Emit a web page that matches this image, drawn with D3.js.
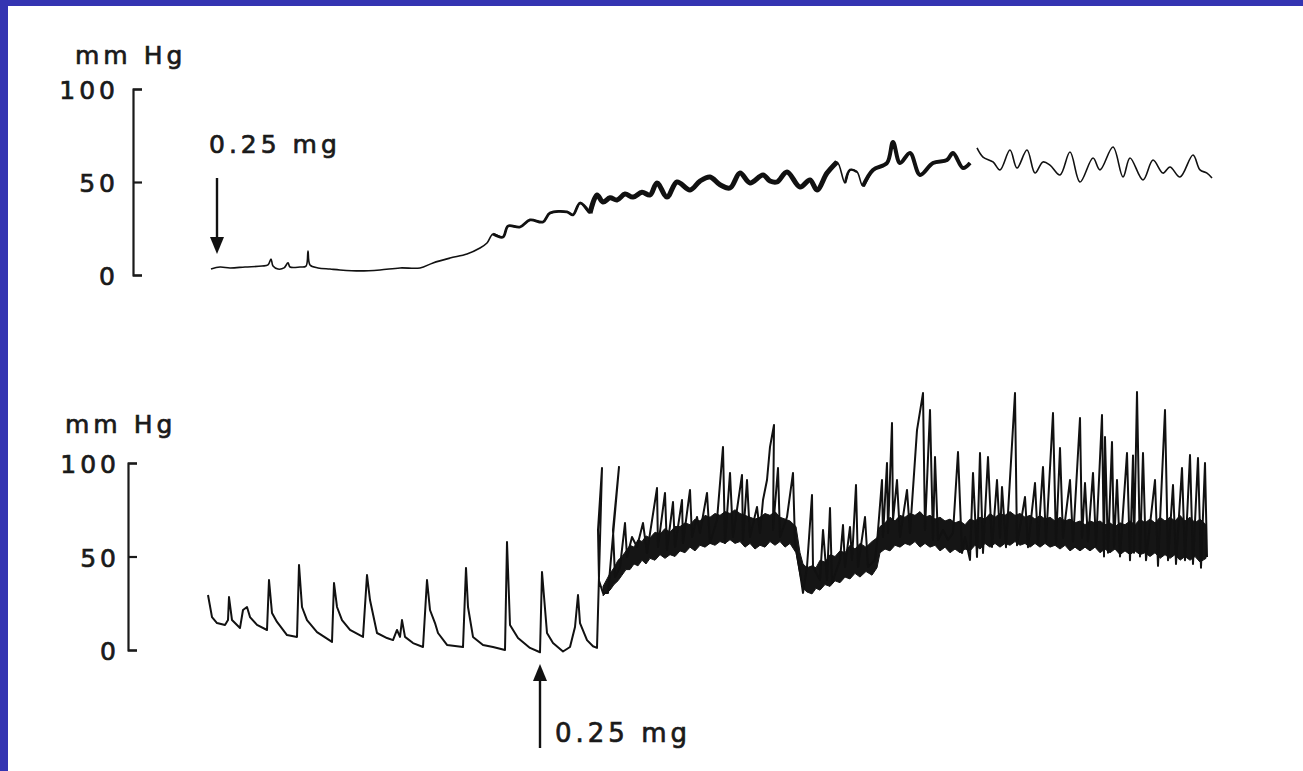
<!DOCTYPE html>
<html>
<head>
<meta charset="utf-8">
<script src="https://cdn.jsdelivr.net/npm/d3@7"></script>
<style>
  html, body { margin: 0; padding: 0; background: #ffffff; }
  svg { display: block; }
  text { font-family: "DejaVu Sans", "Liberation Sans", Arial, sans-serif; fill: #1a1a1a; }
</style>
</head>
<body>
<svg id="chart"></svg>
<script>
let svgWidth = 1303
let svgHeight = 771

// tick labels for both pressure scales (mm Hg)
const tickValues = [0, 50, 100]
const unitLabel = "mm Hg"
const doseLabel = "0.25 mg"

// dose times (same time units as the traces)
const topDoseTime = 17
const bottomDoseTime = 340

// upper recording: [time, mm Hg], null = pen gap
const topTrace = [
  [11, 3.2], [20, 4.3], [30, 3.8], [45, 4.3], [62, 4.8], [68, 5.4], [71, 8.6], [73, 4.8],
  [78, 3.2], [84, 3.8], [88, 6.5], [90, 4.3], [100, 4.3], [106, 4.8], [108, 12.9], [110, 5.4],
  [118, 3.8], [130, 3.2], [140, 2.7], [160, 2.2], [180, 2.7], [200, 3.8], [220, 3.8], [233, 6.5],
  [250, 9.1], [267, 11.3], [280, 14.5], [287, 17.2], [293, 22.0], [303, 20.4], [308, 26.3], [320, 25.8],
  [330, 29.6], [343, 28.5], [350, 33.3], [367, 33.9], [373, 32.3], [380, 38.7], [390, 33.3], [397, 43.0],
  [403, 39.2], [410, 41.5], [417, 40.3], [425, 43.5], [433, 41.9], [442, 44.5], [450, 43.0], [457, 49.5],
  [467, 41.9], [477, 50.0], [490, 45.7], [500, 50.5], [510, 52.7], [520, 48.5], [530, 46.8], [540, 54.8],
  [550, 49.5], [563, 53.8], [570, 50.5], [577, 50.0], [587, 55.4], [600, 47.3], [610, 51.1], [617, 45.7],
  [627, 54.8], [637, 60.8], [645, 49.5], [650, 56.5], [657, 55.4], [663, 47.8], [673, 56.5], [687, 60.2],
  [693, 71.5], [700, 60.2], [710, 65.6], [720, 53.8], [733, 60.2], [747, 61.8], [753, 65.6], [763, 57.5],
  [770, 60.2], null,
  [777, 68.3], [783, 63.4], [793, 60.8], [800, 56.5], [810, 67.2], [817, 57.5], [827, 67.2], [835, 54.8],
  [843, 60.8], [850, 59.1], [860, 53.8], [870, 66.1], [880, 50.0], [893, 62.9], [900, 56.5], [913, 68.8],
  [923, 52.7], [930, 62.9], [943, 51.1], [953, 61.8], [963, 54.8], [970, 58.1], [980, 52.7], [993, 64.5],
  [1000, 56.5], [1007, 54.8], [1012, 52.2]
]

// lower recording: [time, mm Hg]
const bottomTrace = [
  [8, 29.4], [12, 17.6], [17, 14.4], [25, 13.4], [28, 16.0], [29, 28.3], [32, 16.0], [40, 11.8],
  [43, 21.4], [47, 23.0], [50, 17.6], [57, 13.4], [67, 10.7], [69, 37.4], [72, 19.8], [77, 15.0],
  [87, 8.0], [97, 7.0], [99, 45.5], [102, 23.0], [107, 16.0], [117, 9.6], [132, 4.3], [134, 35.8],
  [137, 23.0], [142, 16.0], [150, 10.7], [163, 7.0], [167, 40.1], [170, 26.7], [177, 9.1], [187, 6.4],
  [193, 5.3], [197, 10.7], [200, 7.0], [202, 16.0], [205, 7.0], [213, 3.7], [223, 1.6], [227, 37.4],
  [230, 21.4], [235, 14.4], [238, 9.1], [247, 2.7], [263, 1.6], [266, 43.9], [268, 23.0], [273, 7.0],
  [283, 2.7], [293, 1.6], [305, 0], [307, 57.8], [310, 13.4], [318, 6.4], [330, 1.1], [340, -1.2],
  [342, 41.7], [347, 9.1], [353, 3.7], [363, -0.8], [370, 1.6], [375, 12.3], [378, 29.4], [380, 14.4],
  [387, 5.3], [393, 2.0], [397, 1.1], [402, 97.3], [398, 64.2], [399, 37.0], [403, 30.5], [408, 30.5],
  [419, 97.9], [413, 64.2], [415, 39.0], [420, 44.4], [425, 67.9], [427, 49.7], [432, 60.4], [437, 55.1],
  [443, 67.9], [447, 51.9], [457, 86.6], [458, 55.1], [465, 84.0], [467, 53.5], [473, 79.1], [475, 55.1],
  [482, 80.2], [483, 57.2], [490, 85.6], [492, 60.4], [497, 71.1], [500, 62.6], [507, 84.0], [510, 57.2],
  [517, 69.5], [523, 108.6], [525, 57.2], [530, 94.7], [533, 60.4], [542, 93.6], [543, 58.8], [547, 90.9],
  [550, 60.4], [557, 76.5], [560, 62.6], [563, 80.2], [567, 90.9], [570, 108.6], [574, 120.3], [573, 64.2],
  [578, 97.3], [580, 60.4], [587, 71.1], [593, 94.7], [595, 57.2], [600, 41.2], [603, 30.5], [607, 44.4],
  [612, 82.9], [613, 44.4], [620, 37.4], [623, 64.2], [627, 37.4], [630, 75.9], [632, 35.8], [640, 48.1],
  [643, 66.8], [645, 44.4], [650, 65.8], [652, 48.1], [656, 88.2], [658, 44.4], [665, 71.1], [668, 44.4],
  [675, 48.1], [677, 57.2], [682, 90.9], [683, 60.4], [687, 100.0], [688, 62.6], [692, 121.4], [693, 69.5],
  [697, 90.9], [700, 60.4], [707, 85.6], [710, 62.6], [717, 117.6], [723, 137.4], [725, 64.2], [730, 128.3],
  [733, 58.8], [735, 103.2], [738, 58.8], [743, 64.2], [748, 58.8], [753, 62.6], [758, 105.9], [762, 51.9],
  [765, 60.4], [770, 48.1], [773, 94.7], [777, 49.7], [780, 105.3], [783, 51.9], [788, 103.2], [792, 55.1],
  [797, 90.9], [800, 60.0], [802, 87.2], [806, 55.0], [815, 137.4], [817, 56.0], [825, 81.8], [828, 55.0],
  [835, 89.3], [838, 57.0], [843, 97.9], [846, 58.0], [853, 126.7], [856, 57.0], [860, 108.0], [863, 60.0],
  [870, 90.9], [873, 58.0], [880, 124.1], [882, 60.0], [885, 89.3], [888, 58.0], [893, 94.7], [896, 56.0],
  [902, 125.7], [904, 50.0], [905, 113.9], [908, 52.0], [912, 111.2], [914, 55.0], [917, 90.9], [920, 50.0],
  [927, 105.3], [930, 48.0], [933, 104.0], [934, 52.0], [937, 138.0], [940, 50.0], [943, 105.3], [946, 48.0],
  [955, 90.9], [958, 45.0], [965, 128.3], [968, 48.0], [973, 88.2], [976, 46.0], [982, 97.3], [985, 48.0],
  [990, 104.3], [993, 46.0], [998, 102.7], [1001, 44.0], [1005, 100.0], [1007, 49.7]
]

// dense part of the lower recording between the spikes: [time, low, high] in mm Hg
const bottomBand = [
  [403, 29, 34], [407, 31, 38], [410, 32, 41], [414, 35, 44], [418, 37, 48], [422, 40, 50],
  [426, 43, 53], [430, 43, 56], [434, 46, 55], [438, 45, 59], [442, 48, 58], [446, 46, 61],
  [450, 49, 60], [455, 48, 63], [460, 51, 62], [465, 49, 65], [470, 51, 63], [475, 50, 66],
  [480, 53, 66], [485, 52, 68], [490, 55, 67], [495, 53, 70], [500, 56, 69], [505, 55, 72],
  [510, 57, 71], [515, 56, 73], [520, 58, 72], [525, 57, 74], [530, 59, 73], [535, 57, 75],
  [540, 58, 73], [545, 55, 72], [550, 57, 71], [555, 54, 70], [560, 56, 71], [565, 55, 73],
  [570, 58, 72], [575, 56, 74], [580, 58, 71], [585, 55, 70], [590, 57, 69], [596, 52, 66],
  [600, 40, 52], [603, 33, 46], [607, 31, 44], [612, 30, 45], [616, 33, 44], [620, 32, 48],
  [625, 35, 47], [630, 34, 51], [635, 37, 50], [640, 36, 53], [645, 39, 52], [650, 38, 56],
  [655, 41, 54], [660, 39, 57], [666, 42, 55], [672, 40, 58], [677, 44, 60], [680, 52, 66],
  [685, 54, 68], [690, 53, 71], [695, 56, 69], [700, 55, 72], [705, 57, 71], [710, 56, 73],
  [715, 58, 72], [720, 55, 74], [725, 57, 71], [730, 55, 72], [735, 56, 70], [740, 53, 71],
  [745, 55, 69], [750, 52, 70], [755, 54, 68], [760, 52, 69], [765, 54, 67], [770, 53, 70],
  [775, 56, 69], [780, 54, 71], [785, 57, 70], [790, 55, 73], [795, 57, 71], [800, 55, 73],
  [805, 57, 72], [810, 56, 74], [815, 58, 72], [820, 56, 73], [825, 57, 71], [830, 55, 72],
  [835, 57, 70], [840, 55, 72], [845, 57, 70], [850, 55, 71], [855, 56, 69], [860, 54, 71],
  [865, 56, 69], [870, 53, 70], [875, 55, 68], [880, 53, 69], [885, 55, 67], [890, 53, 69],
  [895, 55, 68], [900, 52, 69], [905, 54, 67], [910, 52, 68], [915, 54, 66], [920, 51, 68],
  [925, 53, 67], [930, 51, 69], [935, 53, 67], [940, 51, 70], [945, 52, 68], [950, 50, 70],
  [955, 52, 68], [960, 49, 71], [965, 51, 69], [970, 49, 71], [975, 51, 69], [980, 48, 72],
  [985, 50, 69], [990, 48, 71], [995, 50, 68], [1000, 47, 70], [1006, 49, 67]
]

let svg = d3.select('#chart')
    .attr('width', svgWidth)
    .attr('height', svgHeight)

// blue slide frame (left and top edges)
svg.append('rect').attr('x', 0).attr('y', 0).attr('width', svgWidth).attr('height', svgHeight).attr('fill', '#3434b2')
svg.append('rect').attr('x', 8).attr('y', 6).attr('width', svgWidth - 8).attr('height', svgHeight - 6).attr('fill', '#ffffff')

const x = d3.scaleLinear().domain([0, 1012]).range([200, 1212])
const yTop = d3.scaleLinear().domain([0, 100]).range([275, 89])
const yBot = d3.scaleLinear().domain([0, 100]).range([650, 463])

const textStyle = function(sel, size){
    sel.style('font-size', size + 'px')
        .style('letter-spacing', '4px')
        .attr('stroke', '#1a1a1a')
        .attr('stroke-width', 0.7)
}

function drawScale(yScale, axisX, labelRight, unitX, unitY){
    let g = svg.append('g').attr('transform', `translate(${axisX},0)`)
    g.call(d3.axisRight(yScale).tickValues(tickValues).tickSize(9).tickSizeOuter(9).tickFormat(''))
    g.select('.domain').attr('stroke', '#1a1a1a').attr('stroke-width', 2.2).attr('fill', 'none')
    g.selectAll('.tick line').attr('stroke', '#1a1a1a').attr('stroke-width', 2.2)

    svg.selectAll(null).data(tickValues)
        .enter()
        .append('text')
        .attr('x', labelRight + 4)
        .attr('y', d => yScale(d) + 3)
        .attr('text-anchor', 'end')
        .attr('dominant-baseline', 'middle')
        .call(textStyle, 25)
        .text(d => d)

    svg.append('text')
        .attr('x', unitX)
        .attr('y', unitY)
        .call(textStyle, 25)
        .text(unitLabel)
}

drawScale(yTop, 133, 115, 75, 64)
drawScale(yBot, 128, 116, 65, 433)

// traces
let lineTop = d3.line()
    .defined(d => d !== null)
    .x(d => x(d[0]))
    .y(d => yTop(d[1]))
    .curve(d3.curveCatmullRom.alpha(0.5))

let lineBot = d3.line()
    .x(d => x(d[0]))
    .y(d => yBot(d[1]))

let bandBot = d3.area()
    .x(d => x(d[0]))
    .y0(d => yBot(d[1]))
    .y1(d => yBot(d[2]))

svg.append('path')
    .datum(topTrace)
    .attr('d', lineTop)
    .attr('fill', 'none')
    .attr('stroke', '#111')
    .attr('stroke-width', 1.6)
    .attr('stroke-linejoin', 'round')

// heavier pen where the upper trace is a dense band
const topBands = [[288, 392, 2.8], [390, 642, 5], [642, 662, 2.4], [662, 771, 4]]
topBands.forEach(function(b){
    let seg = topTrace.filter(d => d !== null && d[0] >= b[0] && d[0] <= b[1])
    svg.append('path')
        .datum(seg)
        .attr('d', lineTop)
        .attr('fill', 'none')
        .attr('stroke', '#111')
        .attr('stroke-width', b[2])
        .attr('stroke-linejoin', 'round')
})

svg.append('path')
    .datum(bottomBand)
    .attr('d', bandBot)
    .attr('fill', '#151515')
    .attr('stroke', '#151515')
    .attr('stroke-width', 1)

svg.append('path')
    .datum(bottomTrace)
    .attr('d', lineBot)
    .attr('fill', 'none')
    .attr('stroke', '#111')
    .attr('stroke-width', 2)
    .attr('stroke-linejoin', 'round')

// dose arrows
function arrow(x0, y0, y1, headLen){
    let dir = y1 > y0 ? 1 : -1
    svg.append('line')
        .attr('x1', x0).attr('x2', x0)
        .attr('y1', y0).attr('y2', y1 - dir * headLen)
        .attr('stroke', '#111').attr('stroke-width', 2.4)
    svg.append('path')
        .attr('d', `M${x0 - 7},${y1 - dir * headLen} L${x0 + 7},${y1 - dir * headLen} L${x0},${y1} Z`)
        .attr('fill', '#111')
}

let topArrowX = x(topDoseTime)
arrow(topArrowX, 178, 254, 17)
svg.append('text')
    .attr('x', topArrowX - 8)
    .attr('y', 153)
    .call(textStyle, 25)
    .text(doseLabel)

let botArrowX = x(bottomDoseTime)
arrow(botArrowX, 748, 664, 17)
svg.append('text')
    .attr('x', botArrowX + 15)
    .attr('y', 742)
    .call(textStyle, 26)
    .text(doseLabel)
</script>
</body>
</html>
